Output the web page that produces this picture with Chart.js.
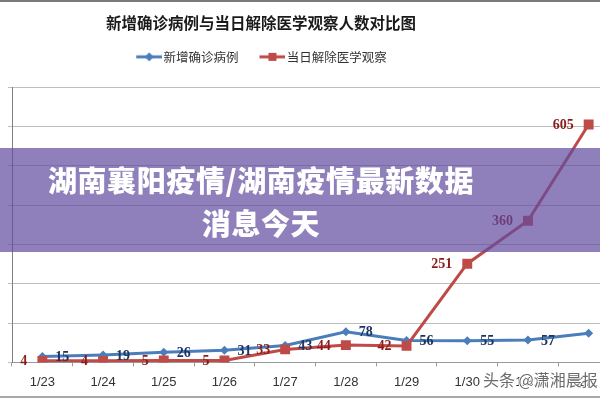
<!DOCTYPE html>
<html>
<head>
<meta charset="utf-8">
<script src="https://cdn.jsdelivr.net/npm/chart.js@4.4.1/dist/chart.umd.min.js"></script>
<style>
  html, body { margin:0; padding:0; width:600px; height:400px; overflow:hidden; background:#ffffff; }
  #wrap { position:absolute; left:-104px; top:0; width:730px; height:400px; }
  #topline { position:absolute; left:0; top:0; width:600px; height:2px; background:#7a7a7a; }
  #botline { position:absolute; left:0; top:396px; width:600px; height:2px; background:#a8a8a8; }
  #banner { position:absolute; left:0; top:148px; width:600px; height:104px; background:rgba(95,74,160,0.7); }
  #banner div { position:absolute; left:0; top:0; width:522px; padding-top:10px; text-align:center; color:#ffffff;
    font-family:"Noto Sans CJK SC", sans-serif; font-weight:900; font-size:29px; line-height:43px; letter-spacing:0.6px; }
  #wm { position:absolute; left:483px; top:367px; font-family:"Noto Sans CJK SC", sans-serif; font-size:16px; color:rgba(70,70,70,0.8);
    text-shadow: 1px 0 #fff, -1px 0 #fff, 0 1px #fff, 0 -1px #fff; white-space:nowrap; }
</style>
</head>
<body>
<div id="wrap"><canvas id="c" width="730" height="400"></canvas></div>
<div id="topline"></div>
<div id="botline"></div>
<div id="banner"><div>湖南襄阳疫情/湖南疫情最新数据<br>消息今天</div></div>
<div id="wm">头条 @潇湘晨报</div>
<script>
const categories = ["1/23","1/24","1/25","1/26","1/27","1/28","1/29","1/30","1/31","2/1"];
const newConfirmed = [15, 19, 26, 31, 43, 78, 56, 55, 57, 74];
const released = [4, 4, 5, 5, 33, 44, 42, 251, 360, 605];
const seriesNames = ["新增确诊病例", "当日解除医学观察"];
const chartTitle = "新增确诊病例与当日解除医学观察人数对比图";
const yTicks = { min: 0, max: 700, step: 100 };

const BLUE = "#4a7ebb", RED = "#be4b48";
const BLUE_LBL = "#1f3560", RED_LBL = "#8a1c1c";

function legendImg(color, shape) {
  const c = document.createElement("canvas");
  c.width = 42; c.height = 12;
  const g = c.getContext("2d");
  g.strokeStyle = color; g.lineWidth = 3;
  g.beginPath(); g.moveTo(16, 6); g.lineTo(42, 6); g.stroke();
  g.fillStyle = color;
  if (shape === "diamond") {
    g.beginPath(); g.moveTo(29, 1.5); g.lineTo(33.5, 6); g.lineTo(29, 10.5); g.lineTo(24.5, 6); g.closePath(); g.fill();
  } else {
    g.fillRect(25, 2, 8, 8);
  }
  return c;
}
const legendImgs = [legendImg(BLUE, "diamond"), legendImg(RED, "square")];

const labelPlugin = {
  id: "valueLabels",
  afterDatasetsDraw(chart) {
    const ctx = chart.ctx;
    ctx.save();
    ctx.font = "bold 14px 'Liberation Serif', serif";
    ctx.textBaseline = "middle";
    chart.data.datasets.forEach((ds, i) => {
      const meta = chart.getDatasetMeta(i);
      meta.data.forEach((pt, j) => {
        const v = ds.data[j];
        if (i === 0) {
          ctx.fillStyle = BLUE_LBL; ctx.textAlign = "left";
          ctx.fillText(String(v), pt.x + 13, pt.y + 1);
        } else {
          ctx.fillStyle = RED_LBL; ctx.textAlign = "right";
          ctx.fillText(String(v), pt.x - 15, pt.y + 1);
        }
      });
    });
    ctx.restore();
  }
};

const legendSpacer = {
  id: "legendSpacer",
  beforeInit(chart) {
    const origFit = chart.legend.fit;
    chart.legend.fit = function () {
      origFit.call(this);
      this.height += 14;
      if (this.lineWidths && this.lineWidths.length) this.lineWidths[0] += 10;
    };
  }
};

new Chart(document.getElementById("c"), {
  type: "line",
  data: {
    labels: categories,
    datasets: [
      { label: seriesNames[0], data: newConfirmed, borderColor: BLUE, backgroundColor: BLUE, borderWidth: 3,
        pointStyle: "rectRot", pointRadius: 4.5, pointBorderWidth: 0, pointBackgroundColor: BLUE, tension: 0, order: 1 },
      { label: seriesNames[1], data: released, borderColor: RED, backgroundColor: RED, borderWidth: 3,
        pointStyle: "rect", pointRadius: 7, pointBorderWidth: 0, pointBackgroundColor: RED, tension: 0, order: 0 }
    ]
  },
  options: {
    responsive: false,
    animation: false,
    layout: { padding: { top: 4, bottom: 2, left: 0, right: 0 } },
    plugins: {
      title: { display: true, text: chartTitle, color: "#1a1a1a",
        font: { family: "'Noto Sans CJK SC', sans-serif", size: 15.5, weight: "bold" },
        padding: { top: 10, bottom: 8 } },
      legend: { display: true, position: "top",
        labels: { usePointStyle: true, pointStyleWidth: 32, color: "#333333", padding: 10,
          font: { family: "'Noto Sans CJK SC', sans-serif", size: 12.5 },
          sort: (a, b) => a.datasetIndex - b.datasetIndex,
          generateLabels(chart) {
            const items = Chart.defaults.plugins.legend.labels.generateLabels(chart);
            items.forEach(it => { it.pointStyle = legendImgs[it.datasetIndex]; });
            return items;
          } } },
      tooltip: { enabled: false }
    },
    scales: {
      x: {
        offset: true,
        grid: { display: true, drawOnChartArea: false, drawTicks: true, tickLength: 4, color: "#9a9a9a", offset: true },
        border: { color: "#9a9a9a", width: 1 },
        ticks: { color: "#333333", padding: 8, maxRotation: 0,
          font: { family: "'Liberation Sans', sans-serif", size: 13 } }
      },
      y: {
        min: yTicks.min, max: yTicks.max,
        ticks: { display: false, stepSize: yTicks.step },
        grid: { color: "#bdbdbd", tickLength: 4, drawTicks: true },
        border: { color: "#808080", width: 1 },
        afterFit(scale) { scale.width = 116; }
      }
    }
  },
  plugins: [labelPlugin, legendSpacer]
});
</script>
</body>
</html>
